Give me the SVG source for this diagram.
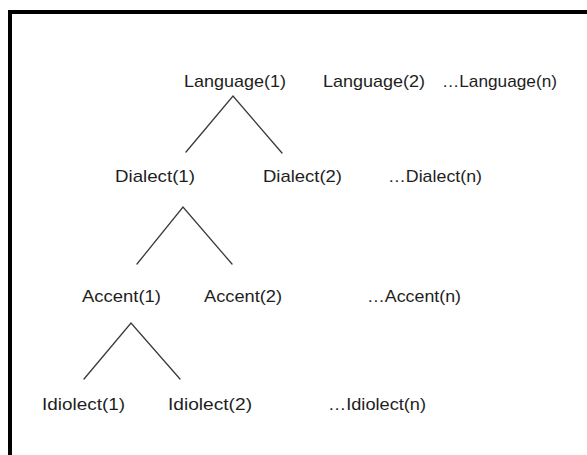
<svg xmlns="http://www.w3.org/2000/svg" width="587" height="455" viewBox="0 0 587 455">
  <style>
    .lbl { font-family: "Liberation Sans", Arial, sans-serif; font-size: 17px; fill: #1e1e1e; }
    .edge { stroke: #3a3a3a; stroke-width: 1.3; fill: none; stroke-linecap: round; }
    .frame { stroke: #000; stroke-width: 4; fill: none; }
  </style>
  <rect width="587" height="455" fill="#fff"/>
  <!-- frame: top and left rules -->
  <path class="frame" d="M10,455 V12 H587"/>

  <g id="connectors">
    <path class="edge" d="M186,152 L233,96 L282,153"/>
    <path class="edge" d="M137,264 L183,207 L232,264"/>
    <path class="edge" d="M84,379 L131,323 L180,379"/>
  </g>

  <g id="language1"><text class="lbl" x="184" y="87" textLength="102" lengthAdjust="spacingAndGlyphs">Language(1)</text></g>
  <g id="language2"><text class="lbl" x="323" y="87" textLength="102" lengthAdjust="spacingAndGlyphs">Language(2)</text></g>
  <g id="languageN"><text class="lbl" x="442" y="87" textLength="115" lengthAdjust="spacingAndGlyphs">…Language(n)</text></g>

  <g id="dialect1"><text class="lbl" x="115" y="182" textLength="80" lengthAdjust="spacingAndGlyphs">Dialect(1)</text></g>
  <g id="dialect2"><text class="lbl" x="263" y="182" textLength="79" lengthAdjust="spacingAndGlyphs">Dialect(2)</text></g>
  <g id="dialectN"><text class="lbl" x="388" y="182" textLength="94" lengthAdjust="spacingAndGlyphs">…Dialect(n)</text></g>

  <g id="accent1"><text class="lbl" x="82" y="302" textLength="79" lengthAdjust="spacingAndGlyphs">Accent(1)</text></g>
  <g id="accent2"><text class="lbl" x="204" y="302" textLength="78" lengthAdjust="spacingAndGlyphs">Accent(2)</text></g>
  <g id="accentN"><text class="lbl" x="367" y="302" textLength="94" lengthAdjust="spacingAndGlyphs">…Accent(n)</text></g>

  <g id="idiolect1"><text class="lbl" x="42" y="410" textLength="83" lengthAdjust="spacingAndGlyphs">Idiolect(1)</text></g>
  <g id="idiolect2"><text class="lbl" x="168" y="410" textLength="84" lengthAdjust="spacingAndGlyphs">Idiolect(2)</text></g>
  <g id="idiolectN"><text class="lbl" x="328" y="410" textLength="98" lengthAdjust="spacingAndGlyphs">…Idiolect(n)</text></g>
</svg>
